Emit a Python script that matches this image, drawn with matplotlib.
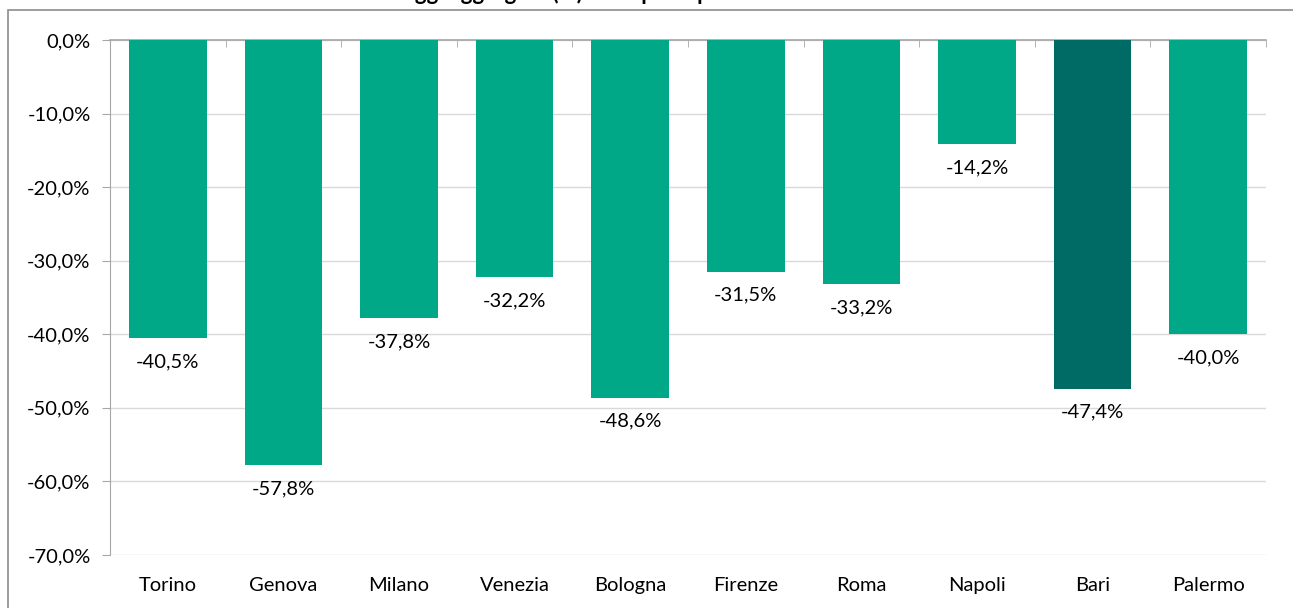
import matplotlib.pyplot as plt
import matplotlib.patches as patches
import numpy as np

plt.rcParams['font.family'] = ['Lato', 'DejaVu Sans']

cities = ['Torino', 'Genova', 'Milano', 'Venezia', 'Bologna',
          'Firenze', 'Roma', 'Napoli', 'Bari', 'Palermo']
values = [-40.5, -57.8, -37.8, -32.2, -48.6, -31.5, -33.2, -14.2, -47.4, -40.0]
highlight = 'Bari'
yticks = [0, -10, -20, -30, -40, -50, -60, -70]

green = '#00A887'
dark = '#006A65'
grey = '#A6A6A6'


def fmt(v):
    return ('%.1f%%' % v).replace('.', ',')


fig = plt.figure(figsize=(12.93, 6.08), dpi=100)
ax = fig.add_axes([0.0851, 0.0872, 0.894, 0.847])

# outer chart frame, cut by the image edges
fig.patches.append(patches.Rectangle((8 / 1293, -0.05), 1.1, 1 - 10 / 608 + 0.05,
                                     transform=fig.transFigure, fill=False,
                                     edgecolor='#8C8C8C', linewidth=1.2))
# title, mostly outside the visible area (as in the cropped source)
fig.text(0.0, 1.0,
         'Grafico 5. Variazione della domanda di viaggi aggregata (%) nelle principali città italiane - Anno 2020 vs 2019',
         fontsize=16, fontweight='bold', va='baseline', ha='left', color='black')

x = np.arange(len(cities))
colors = [dark if c == highlight else green for c in cities]
ax.bar(x, values, width=0.67, color=colors, zorder=3)

for xi, v in zip(x, values):
    ax.annotate(fmt(v), (xi, v), xytext=(0, -15), textcoords='offset pixels',
                ha='center', va='top', fontsize=14.5, color='black')

ax.set_xlim(-0.5, len(cities) - 0.5)
ax.set_ylim(-70, 0)
ax.set_yticks(yticks)
ax.set_yticklabels([fmt(t) for t in yticks], fontsize=14.5)
ax.set_xticks(x)
ax.set_xticklabels(cities, fontsize=14.5)
ax.set_xticks(np.arange(len(cities) + 1) - 0.5, minor=True)

ax.grid(axis='y', color='#D9D9D9', linewidth=1, zorder=0)
for s in ['right', 'bottom']:
    ax.spines[s].set_visible(False)
ax.spines['left'].set_color(grey)
ax.spines['top'].set_color(grey)
ax.spines['top'].set_linewidth(1.2)

ax.tick_params(axis='x', which='major', length=0, pad=16)
ax.tick_params(axis='x', which='minor', top=True, bottom=False, direction='in',
               length=5, color=grey)
ax.tick_params(axis='y', length=6, color=grey, pad=8)

fig.savefig('out.png', dpi=100)
